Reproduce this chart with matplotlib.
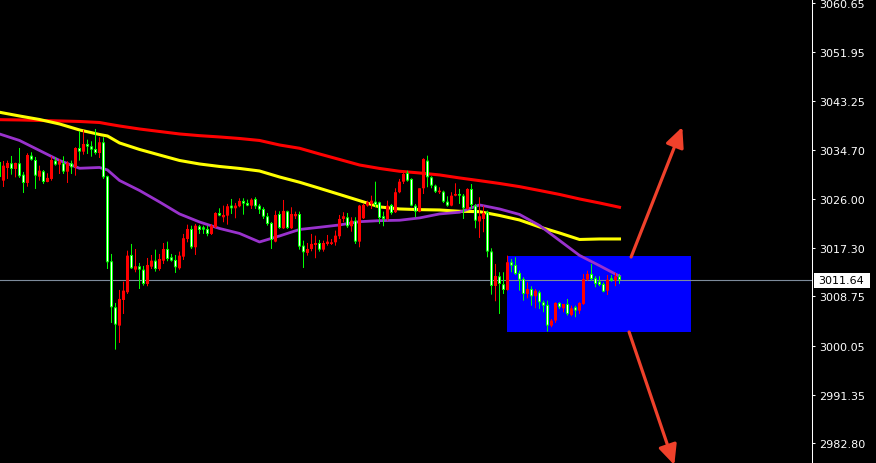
import matplotlib

matplotlib.use("Agg")
import matplotlib.pyplot as plt
import numpy as np
from matplotlib.patches import Rectangle
from matplotlib.transforms import blended_transform_factory


OPEN = [
    3032.52, 3029.22, 3031.46, 3032.30, 3031.29, 3032.30, 3030.28, 3028.81, 3033.64, 3032.88,
    3029.92, 3030.88, 3028.99, 3029.52, 3032.76, 3032.05, 3032.30, 3030.81, 3032.30, 3031.59,
    3035.00, 3034.35, 3035.71, 3035.30, 3034.82, 3034.11, 3036.01, 3030.00, 3014.96, 3006.82,
    3003.57, 3008.11, 3009.47, 3016.07, 3013.47, 3014.07, 3013.47, 3010.94, 3014.00, 3015.06,
    3013.59, 3015.06, 3017.13, 3015.66, 3015.19, 3013.72, 3015.77, 3018.90, 3020.67, 3017.43,
    3021.15, 3020.97, 3020.67, 3019.79, 3020.97, 3023.50, 3022.74, 3023.03, 3024.80, 3024.33,
    3024.69, 3025.63, 3025.27, 3024.80, 3025.98, 3024.80, 3024.21, 3022.92, 3021.73, 3018.43,
    3023.32, 3020.79, 3023.80, 3020.79, 3022.92, 3023.32, 3017.72, 3016.43, 3017.13, 3017.84,
    3018.19, 3017.01, 3018.02, 3018.02, 3018.31, 3019.38, 3022.44, 3022.74, 3021.15, 3022.14,
    3018.43, 3022.56, 3024.80, 3025.10, 3025.50, 3025.39, 3022.92, 3022.44, 3024.92, 3023.63,
    3027.17, 3029.04, 3030.58, 3029.52, 3024.80, 3023.74, 3027.87, 3032.76, 3029.82, 3028.33,
    3027.17, 3027.27, 3025.50, 3024.80, 3026.56, 3026.86, 3026.56, 3024.21, 3027.75, 3024.80,
    3022.00, 3022.44, 3023.63, 3016.69, 3010.59, 3012.30, 3010.89, 3009.88, 3014.78, 3014.30,
    3012.89, 3011.82, 3009.17, 3010.05, 3008.76, 3009.47, 3007.70, 3007.23, 3003.57, 3004.45,
    3007.58, 3006.64, 3007.40, 3005.46, 3006.82, 3006.22, 3007.40, 3011.70, 3012.71, 3011.95,
    3011.35, 3010.94, 3009.76, 3011.95, 3011.53, 3012.30,
]
HIGH = [
    3033.06, 3032.70, 3032.76, 3033.59, 3032.40, 3035.00, 3030.76, 3034.06, 3034.24, 3033.41,
    3031.87, 3031.10, 3030.52, 3033.53, 3033.36, 3033.06, 3033.53, 3032.65, 3032.76, 3035.12,
    3037.96, 3038.19, 3036.47, 3036.18, 3038.36, 3036.89, 3036.89, 3030.10, 3016.25, 3007.58,
    3009.88, 3011.35, 3016.83, 3018.02, 3017.13, 3014.66, 3014.13, 3015.54, 3016.07, 3017.01,
    3016.25, 3018.19, 3018.43, 3016.25, 3016.07, 3016.66, 3019.79, 3021.43, 3021.25, 3021.56,
    3021.38, 3021.25, 3021.25, 3021.56, 3023.63, 3024.33, 3024.80, 3025.10, 3025.98, 3025.27,
    3026.10, 3026.10, 3025.86, 3026.10, 3026.28, 3025.10, 3024.51, 3023.50, 3021.91, 3023.91,
    3023.80, 3025.80, 3023.91, 3024.51, 3023.74, 3023.74, 3018.60, 3018.19, 3019.79, 3019.49,
    3018.73, 3018.60, 3019.61, 3018.90, 3020.38, 3023.15, 3023.63, 3023.50, 3022.74, 3022.74,
    3024.92, 3025.10, 3025.68, 3026.56, 3029.04, 3025.50, 3023.74, 3025.68, 3025.10, 3027.87,
    3029.52, 3030.99, 3030.99, 3029.64, 3025.10, 3027.87, 3033.18, 3033.64, 3030.00, 3028.51,
    3028.05, 3027.45, 3026.45, 3027.17, 3028.75, 3027.75, 3026.86, 3027.87, 3028.63, 3025.10,
    3026.28, 3024.80, 3023.91, 3017.25, 3014.48, 3013.01, 3013.01, 3015.95, 3015.36, 3015.66,
    3013.29, 3012.12, 3011.24, 3010.53, 3010.05, 3009.76, 3007.99, 3007.99, 3004.75, 3007.70,
    3007.70, 3007.40, 3008.29, 3007.10, 3007.10, 3007.70, 3012.71, 3013.29, 3014.48, 3012.30,
    3012.30, 3011.24, 3012.53, 3012.53, 3012.89, 3012.71,
]
LOW = [
    3029.52, 3028.10, 3029.52, 3030.28, 3029.80, 3029.70, 3027.04, 3028.15, 3032.76, 3027.75,
    3029.22, 3028.63, 3028.93, 3029.22, 3031.87, 3030.40, 3030.40, 3028.81, 3030.40, 3030.10,
    3032.76, 3033.82, 3033.94, 3033.46, 3033.82, 3033.23, 3029.52, 3013.59, 3004.04, 2999.32,
    3000.51, 3005.63, 3009.17, 3013.59, 3013.01, 3010.05, 3010.64, 3010.54, 3013.59, 3013.12,
    3013.29, 3014.48, 3014.96, 3014.89, 3012.89, 3013.47, 3015.19, 3018.31, 3017.13, 3016.07,
    3019.79, 3019.79, 3019.38, 3019.61, 3020.85, 3022.92, 3021.86, 3021.43, 3023.32, 3022.56,
    3024.51, 3023.20, 3024.69, 3024.21, 3024.21, 3023.32, 3022.44, 3021.25, 3017.13, 3018.31,
    3020.67, 3020.67, 3020.67, 3020.67, 3022.44, 3017.01, 3013.77, 3015.95, 3016.72, 3015.49,
    3016.66, 3016.66, 3017.72, 3017.84, 3017.72, 3018.90, 3021.86, 3020.85, 3020.19, 3018.02,
    3017.43, 3022.44, 3024.62, 3024.21, 3024.51, 3021.56, 3021.15, 3022.14, 3023.20, 3023.50,
    3026.99, 3028.63, 3029.04, 3024.69, 3022.74, 3023.63, 3026.86, 3028.05, 3027.87, 3027.04,
    3026.86, 3025.27, 3024.62, 3024.69, 3026.45, 3025.10, 3022.44, 3024.09, 3024.21, 3020.79,
    3019.08, 3020.09, 3015.66, 3009.05, 3007.88, 3005.63, 3009.17, 3009.76, 3013.01, 3012.53,
    3009.76, 3007.99, 3008.41, 3007.10, 3006.64, 3006.52, 3005.94, 3002.51, 3003.28, 3004.04,
    3006.52, 3005.94, 3005.34, 3005.23, 3005.05, 3005.63, 3007.23, 3011.53, 3011.53, 3010.36,
    3010.54, 3009.47, 3008.99, 3011.35, 3010.54, 3010.94,
]
CLOSE = [
    3029.87, 3031.87, 3032.35, 3031.29, 3032.35, 3030.00, 3028.81, 3033.76, 3032.93, 3030.10,
    3030.99, 3028.99, 3029.70, 3032.88, 3032.05, 3032.65, 3030.81, 3032.30, 3031.59, 3035.00,
    3034.35, 3035.71, 3035.23, 3034.70, 3034.11, 3036.01, 3029.82, 3014.78, 3006.82, 3003.74,
    3008.29, 3009.76, 3015.95, 3013.72, 3014.07, 3013.47, 3010.94, 3014.30, 3015.06, 3013.59,
    3015.36, 3017.13, 3015.36, 3015.06, 3013.90, 3015.95, 3019.03, 3020.67, 3017.43, 3021.25,
    3020.49, 3020.55, 3019.79, 3021.25, 3023.50, 3023.03, 3023.15, 3024.69, 3024.33, 3024.80,
    3025.63, 3025.15, 3024.80, 3025.86, 3024.69, 3024.09, 3022.85, 3021.55, 3018.73, 3023.15,
    3020.85, 3023.86, 3020.85, 3023.32, 3023.32, 3017.54, 3016.55, 3017.13, 3018.02, 3018.19,
    3017.01, 3018.19, 3018.43, 3018.31, 3019.49, 3022.44, 3022.92, 3021.15, 3022.14, 3018.43,
    3024.80, 3024.92, 3025.39, 3025.68, 3024.92, 3022.62, 3022.44, 3024.80, 3023.50, 3027.17,
    3029.04, 3030.40, 3029.22, 3024.80, 3023.74, 3027.87, 3033.06, 3029.82, 3028.33, 3027.27,
    3027.45, 3025.50, 3024.80, 3026.56, 3026.86, 3026.56, 3024.33, 3027.75, 3024.92, 3022.14,
    3022.92, 3023.50, 3016.66, 3010.59, 3012.36, 3010.94, 3009.88, 3014.78, 3014.18, 3012.71,
    3011.70, 3009.17, 3010.05, 3008.76, 3009.76, 3007.70, 3007.10, 3003.57, 3004.45, 3007.58,
    3006.82, 3007.40, 3005.63, 3006.64, 3006.22, 3007.58, 3011.82, 3012.71, 3011.82, 3010.94,
    3010.77, 3009.58, 3011.70, 3011.53, 3012.30, 3011.64,
]

# moving averages, read at these bar numbers
MA_BARS = [0, 5, 10, 15, 20, 25, 27, 30, 35, 40, 45, 50, 55, 60, 65, 70, 75, 80,
           85, 90, 95, 100, 105, 110, 115, 120, 125, 130, 135, 140, 145, 150, 155]
MA_RED = [3040.01, 3039.96, 3039.87, 3039.78, 3039.69, 3039.51, 3039.25, 3038.89, 3038.36,
          3037.92, 3037.48, 3037.18, 3036.95, 3036.68, 3036.33, 3035.53, 3034.95, 3033.94,
          3032.97, 3031.99, 3031.38, 3030.88, 3030.58, 3030.23, 3029.70, 3029.22, 3028.72,
          3028.16, 3027.48, 3026.78, 3025.98, 3025.27, 3024.51]
MA_YELLOW = [3041.32, 3040.66, 3040.04, 3039.25, 3038.19, 3037.39, 3037.12, 3035.89, 3034.74,
             3033.76, 3032.79, 3032.17, 3031.73, 3031.38, 3030.93, 3029.87, 3028.94, 3027.87,
             3026.78, 3025.68, 3024.57, 3024.21, 3024.09, 3024.03, 3023.80, 3023.73, 3023.06,
             3022.26, 3021.03, 3019.96, 3018.81, 3018.90, 3018.90]
MA_PURPLE = [3037.48, 3036.33, 3034.56, 3032.79, 3031.41, 3031.55, 3031.11, 3029.25, 3027.48,
             3025.45, 3023.33, 3021.91, 3020.76, 3019.88, 3018.37, 3019.43, 3020.58, 3020.97,
             3021.38, 3021.96, 3022.14, 3022.21, 3022.62, 3023.33, 3023.63, 3024.92, 3024.21,
             3023.24, 3021.29, 3018.64, 3015.99, 3014.18, 3012.31]

PRICE_TICKS = [3060.65, 3051.95, 3043.25, 3034.70, 3026.00, 3017.30, 3008.75, 3000.05, 2991.35, 2982.80]
LAST_PRICE = 3011.64

# range box and the two direction arrows (bar, price)
BOX = (126.9, 3002.44, 46.0, 13.45)
ARROW_UP = ((157.9, 3015.71), (170.7, 3038.71))
ARROW_DOWN = ((157.4, 3002.44), (168.7, 2978.91))

BULL = "#ff0000"
BEAR = "#00ff00"
PX = 0.177  # one pixel in price units


def main():
    o = np.asarray(OPEN)
    h = np.asarray(HIGH)
    l = np.asarray(LOW)
    c = np.asarray(CLOSE)
    x = np.arange(len(o))
    up = c >= o

    fig = plt.figure(figsize=(8.76, 4.64), dpi=100, facecolor="black")
    ax = fig.add_axes([0, 0, 812 / 876, 1])
    ax.set_facecolor("black")

    ax.add_patch(Rectangle(BOX[:2], BOX[2], BOX[3], facecolor="#0000ff", edgecolor="none", zorder=0.5))
    ax.axhline(LAST_PRICE, color="#7d8b9c", lw=0.8, zorder=1)

    ax.plot(MA_BARS, MA_RED, color="#ff0000", lw=2.2, zorder=2)
    ax.plot(MA_BARS, MA_YELLOW, color="#ffff00", lw=2.2, zorder=2)
    ax.plot(MA_BARS, MA_PURPLE, color="#9932cc", lw=2.0, zorder=2)

    # bars sit on whole pixels: 4 px per bar, 3 px body, 1 px wick (no snapping)
    colors = np.where(up, BULL, BEAR)
    ax.vlines(x, l, h, colors=colors, lw=0.72, zorder=3, snap=False)
    bottom = np.minimum(o, c)
    height = np.maximum(np.abs(c - o), PX)
    bodies = ax.bar(x, height, bottom=bottom, width=0.75, color=colors, linewidth=0, zorder=3.1)
    inner = ~up & (height > 2.5 * PX)
    cores = ax.bar(x[inner], height[inner] - 2 * PX, bottom=bottom[inner] + PX, width=0.25,
                   color="white", linewidth=0, zorder=3.2)
    for patch in list(bodies) + list(cores):
        patch.set_snap(False)

    arrow_style = "-|>,head_length=0.6,head_width=0.28"
    for start, tip in (ARROW_UP, ARROW_DOWN):
        ax.annotate("", xy=tip, xytext=start, annotation_clip=False, zorder=4,
                    arrowprops=dict(arrowstyle=arrow_style, color="#f0412b", lw=2.3,
                                    mutation_scale=20, shrinkA=0, shrinkB=0))

    ax.set_xlim(0.125, 203.125)
    ax.set_ylim(2979.26, 3061.36)
    ax.set_xticks([])
    ax.yaxis.tick_right()
    ax.set_yticks(PRICE_TICKS)
    ax.set_yticklabels([f"{v:.2f}" for v in PRICE_TICKS])
    ax.tick_params(axis="y", colors="white", direction="out", length=2.2, width=0.75,
                   pad=2.9, labelsize=8)
    for side in ("left", "top", "bottom"):
        ax.spines[side].set_visible(False)
    ax.spines["right"].set_color("white")
    ax.spines["right"].set_linewidth(0.75)

    trans = blended_transform_factory(ax.transAxes, ax.transData)
    ax.add_patch(Rectangle((814 / 812, LAST_PRICE - 1.35), 56 / 812, 2.65, transform=trans,
                           facecolor="white", edgecolor="none", clip_on=False, zorder=5))
    ax.text(818.5 / 812, LAST_PRICE, f"{LAST_PRICE:.2f}", transform=trans, color="black",
            fontsize=8, va="center", ha="left", clip_on=False, zorder=6)

    fig.savefig("out.png", dpi=100, facecolor="black")
    plt.close(fig)


if __name__ == "__main__":
    main()
